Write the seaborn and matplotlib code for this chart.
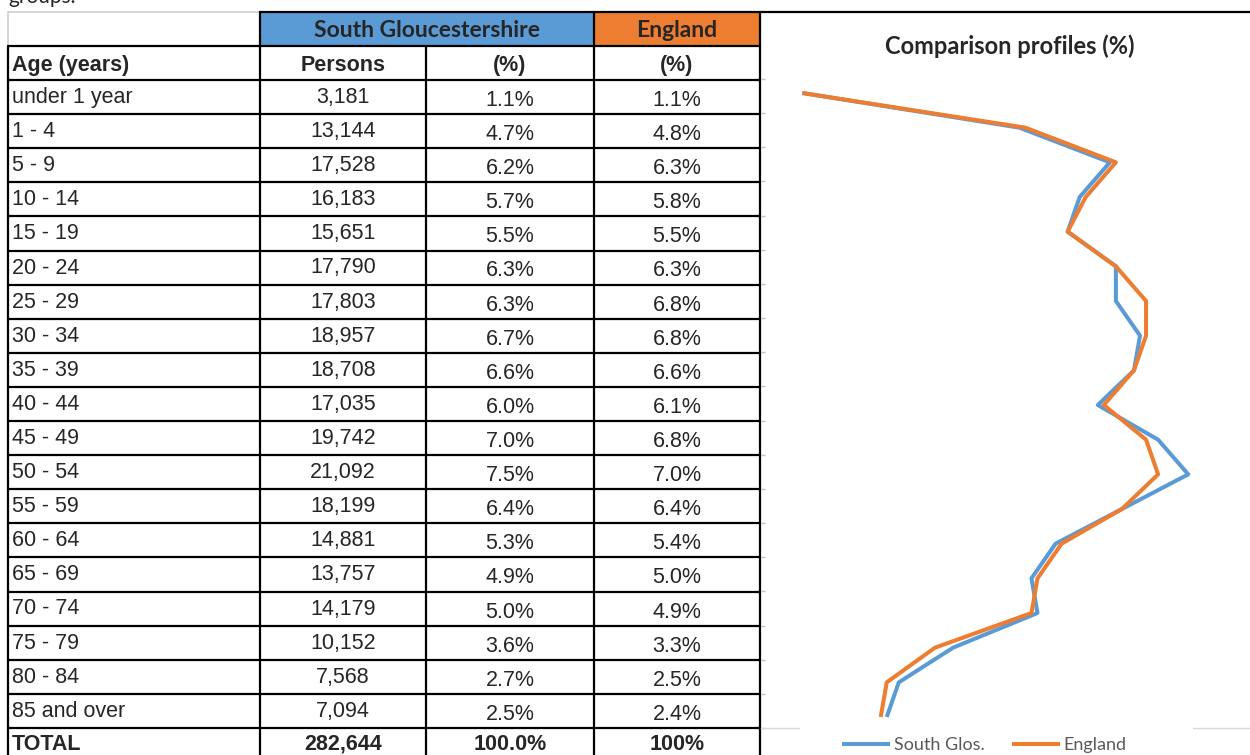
import matplotlib
matplotlib.use('Agg')
import matplotlib.pyplot as plt
from matplotlib.patches import Rectangle
from matplotlib.lines import Line2D
import numpy as np
import pandas as pd
import seaborn as sns

# table / chart data
ages = ['under 1 year', '1 - 4', '5 - 9', '10 - 14', '15 - 19', '20 - 24', '25 - 29',
        '30 - 34', '35 - 39', '40 - 44', '45 - 49', '50 - 54', '55 - 59', '60 - 64',
        '65 - 69', '70 - 74', '75 - 79', '80 - 84', '85 and over']
persons = [3181, 13144, 17528, 16183, 15651, 17790, 17803, 18957, 18708, 17035,
           19742, 21092, 18199, 14881, 13757, 14179, 10152, 7568, 7094]
sg_pct = [1.1, 4.7, 6.2, 5.7, 5.5, 6.3, 6.3, 6.7, 6.6, 6.0,
          7.0, 7.5, 6.4, 5.3, 4.9, 5.0, 3.6, 2.7, 2.5]
eng_pct = [1.1, 4.8, 6.3, 5.8, 5.5, 6.3, 6.8, 6.8, 6.6, 6.1,
           6.8, 7.0, 6.4, 5.4, 5.0, 4.9, 3.3, 2.5, 2.4]
total_labels = ['TOTAL', f'{sum(persons):,}', '100.0%', '100%']
header_labels = ['Age (years)', 'Persons', '(%)', '(%)']
series_names = ['South Glos.', 'England']

BLUE = '#5B9BD5'
ORANGE = '#ED7D31'

sns.set_theme(style='white')
plt.rcParams['font.family'] = ['Liberation Sans', 'DejaVu Sans']

W, H = 1250, 755
fig = plt.figure(figsize=(12.5, 7.55), dpi=100)

# ---- table, drawn in pixel coordinates
tab = fig.add_axes([0, 0, 1, 1])
tab.set_xlim(0, W)
tab.set_ylim(H, 0)
tab.axis('off')

cols = [8, 260, 426, 594, 760]
centers = [(cols[i] + cols[i + 1]) / 2 for i in range(4)]
row_h = 34.1
row_tops = [80 + row_h * i for i in range(len(ages) + 2)]
lw = 1.6

tab.add_patch(Rectangle((260, 12), 334, 34, facecolor=BLUE, edgecolor='none'))
tab.add_patch(Rectangle((594, 12), 166, 34, facecolor=ORANGE, edgecolor='none'))

# grid lines
tab.plot([8, 260], [12, 12], color='#d0d0d0', lw=1.2)
tab.plot([8, 8], [12, 46], color='#d0d0d0', lw=1.2)
tab.plot([260, W], [12, 12], color='black', lw=lw)
tab.plot([8, 760], [46, 46], color='black', lw=lw)
for y in row_tops:
    tab.plot([8, 760], [y, y], color='black', lw=lw)
for x, y0 in zip(cols, [46, 12, 46, 12, 12]):
    tab.plot([x, x], [y0, H + 5], color='black', lw=lw)

hdr_font = dict(family=['Lato', 'DejaVu Sans'], fontweight='bold', fontsize=16.5)
tab.text((260 + 594) / 2, 37, 'South Gloucestershire', ha='center', va='baseline', **hdr_font)
tab.text(centers[3], 37, 'England', ha='center', va='baseline', **hdr_font)

for i, lab in enumerate(header_labels):
    x = 12 if i == 0 else centers[i]
    tab.text(x, 71, lab, ha='left' if i == 0 else 'center', va='baseline',
             fontsize=15.5, fontweight='bold')

for i, age in enumerate(ages):
    top = row_tops[i]
    tab.text(12, top + 23, age, ha='left', va='baseline', fontsize=15.5)
    tab.text(centers[1], top + 23, f'{persons[i]:,}', ha='center', va='baseline', fontsize=15.5)
    tab.text(centers[2], top + 26, f'{sg_pct[i]:.1f}%', ha='center', va='baseline', fontsize=15.5)
    tab.text(centers[3], top + 26, f'{eng_pct[i]:.1f}%', ha='center', va='baseline', fontsize=15.5)

top = row_tops[len(ages)]
for i, lab in enumerate(total_labels):
    x = 12 if i == 0 else centers[i]
    tab.text(x, top + 22, lab, ha='left' if i == 0 else 'center',
             va='baseline', fontsize=15.5, fontweight='bold')

tab.text(8, 3, 'groups.', ha='left', va='baseline', fontsize=15,
         family=['Lato', 'DejaVu Sans'])

# ---- comparison profile chart
ch = fig.add_axes([761 / W, 1 - 728 / H, (W - 761) / W, (728 - 79) / H])
ch.patch.set_alpha(0)

df = pd.DataFrame({
    'pos': list(range(len(ages))) * 2,
    'pct': sg_pct + eng_pct,
    'series': [series_names[0]] * len(ages) + [series_names[1]] * len(ages),
})
sns.lineplot(data=df, x='pct', y='pos', hue='series', hue_order=series_names,
             palette={series_names[0]: BLUE, series_names[1]: ORANGE},
             orient='y', estimator=None, linewidth=2.9, legend=False, ax=ch,
             solid_joinstyle='round', solid_capstyle='butt')

y_top, y_bot = -0.404, 18.317
ch.set_xlim(0.415, 8.524)
ch.set_ylim(y_bot, y_top)
ch.set_xlabel('')
ch.set_ylabel('')
ch.set_xticks([])
ch.set_yticks(np.linspace(y_top, y_bot, 20))
ch.set_yticklabels([])
ch.tick_params(axis='y', direction='in', length=3, color='#bfbfbf', width=1, left=True)
for s in ['left', 'top', 'right']:
    ch.spines[s].set_visible(False)
ch.spines['bottom'].set_color('#d9d9d9')
ch.spines['bottom'].set_linewidth(1)

tab.text(1010, 54, 'Comparison profiles (%)', ha='center', va='baseline',
         family=['Lato', 'DejaVu Sans'], fontweight='bold', fontsize=17)

# legend area knocks out the axis line
ch.add_patch(Rectangle((800, 722), 393, 40, transform=tab.transData, facecolor='white',
                       edgecolor='none', clip_on=False, zorder=5))
handles = [Line2D([], [], color=BLUE, lw=2.9, solid_capstyle='butt'),
           Line2D([], [], color=ORANGE, lw=2.9, solid_capstyle='butt')]
leg = ch.legend(handles, series_names, loc='center left', bbox_to_anchor=(842, 745),
                bbox_transform=tab.transData, ncol=2, frameon=False, handlelength=2.67,
                handletextpad=0.2, columnspacing=1.5, borderpad=0, borderaxespad=0,
                prop={'family': 'Lato', 'size': 13})
leg.set_zorder(6)
for t in leg.get_texts():
    t.set_color('#595959')

fig.savefig('out.png', dpi=100)
